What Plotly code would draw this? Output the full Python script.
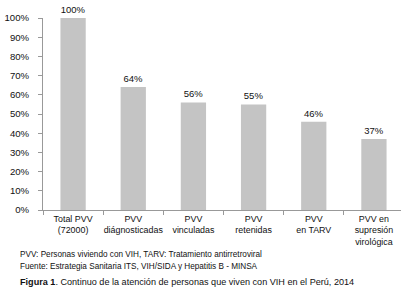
import plotly.graph_objects as go

categories = ["Total PVV<br>(72000)", "PVV<br>diágnosticadas", "PVV<br>vinculadas",
              "PVV<br>retenidas", "PVV<br>en TARV", "PVV en<br>supresión<br>virológica"]
values = [100, 64, 56, 55, 46, 37]
value_labels = ["100%", "64%", "56%", "55%", "46%", "37%"]
y_ticks = [0, 10, 20, 30, 40, 50, 60, 70, 80, 90, 100]
y_tick_labels = ["0%", "10%", "20%", "30%", "40%", "50%", "60%", "70%", "80%", "90%", "100%"]

FONT = "Liberation Sans, Arial, sans-serif"
W, H = 401, 292
L, R, T, B = 43, 0, 18, 82

fig = go.Figure(go.Bar(
    x=categories, y=values, text=value_labels, textposition="outside",
    textfont=dict(size=9.5, color="#111", family=FONT),
    marker=dict(color="#c4c4c4", line=dict(width=0)),
    width=0.42, cliponaxis=False, hoverinfo="skip",
))

def px_to_paper_x(px):
    return (px - L) / (W - L - R)

def px_to_paper_y(py):
    return (H - B - py) / (H - B - T)

ann = [
    dict(text="PVV: Personas viviendo con VIH, TARV: Tratamiento antirretroviral",
         x=px_to_paper_x(18), y=px_to_paper_y(254), size=8.2),
    dict(text="Fuente: Estrategia Sanitaria ITS, VIH/SIDA y Hepatitis B - MINSA",
         x=px_to_paper_x(18), y=px_to_paper_y(266), size=8.2),
    dict(text="<b>Figura 1</b>. Continuo de la atención de personas que viven con VIH en el Perú, 2014",
         x=px_to_paper_x(18), y=px_to_paper_y(282), size=9.1),
]

fig.update_layout(
    width=W, height=H, margin=dict(l=L, r=R, t=T, b=B, pad=0, autoexpand=False),
    paper_bgcolor="white", plot_bgcolor="white", showlegend=False,
    font=dict(family=FONT, color="#111"),
    xaxis=dict(range=[-0.5, 5.45], showline=True, linecolor="#999", linewidth=1,
               ticks="outside", tickson="boundaries", ticklen=4, tickcolor="#999",
               tickangle=0, automargin=False,
               tickfont=dict(size=8.9, family=FONT, color="#111"), showgrid=False,
               fixedrange=True),
    yaxis=dict(range=[0, 100], tickmode="array", tickvals=y_ticks, ticktext=y_tick_labels,
               showline=True, automargin=False,
               linecolor="#999", linewidth=1, ticks="outside", ticklen=4, tickcolor="#999",
               tickfont=dict(size=9.6, family=FONT, color="#111"), showgrid=False,
               zeroline=False, ticklabelstandoff=7, fixedrange=True),
    annotations=[dict(text=a["text"], x=a["x"], y=a["y"], xref="paper", yref="paper",
                      xanchor="left", yanchor="middle", showarrow=False,
                      font=dict(size=a["size"], family=FONT, color="#111")) for a in ann],
)

fig.write_html("out.html", config={"displayModeBar": False, "staticPlot": True},
               post_script="document.body.style.margin='0';document.body.style.padding='0';")
